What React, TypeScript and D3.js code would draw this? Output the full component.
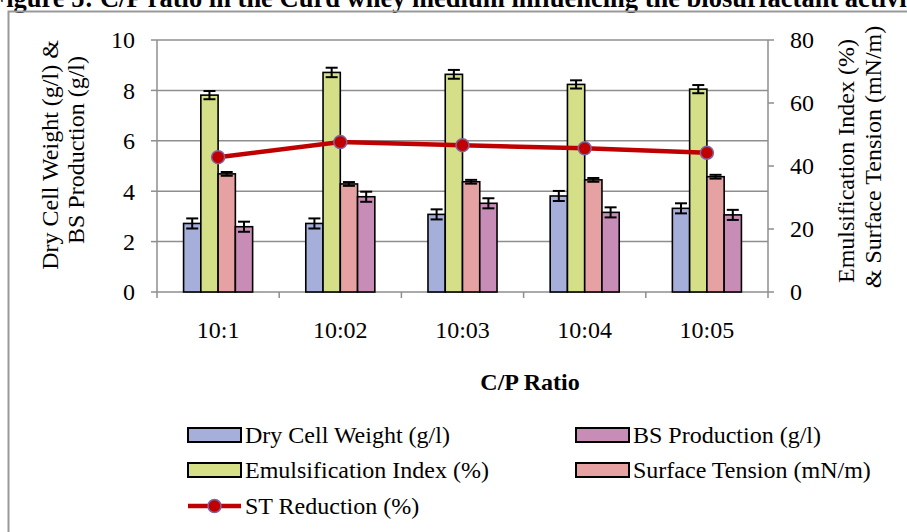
import React from 'react';
import * as d3 from 'd3';

const categories = ['10:1', '10:02', '10:03', '10:04', '10:05'];

// left axis (g/l)
const dryCellWeight = [2.72, 2.72, 3.08, 3.81, 3.32];
const dryCellWeightErr = [0.2, 0.2, 0.2, 0.2, 0.2];
const bsProduction = [2.59, 3.78, 3.52, 3.16, 3.06];
const bsProductionErr = [0.2, 0.2, 0.2, 0.2, 0.2];

// right axis (% and mN/m)
const emulsificationIndex = [62.5, 69.7, 69.1, 65.9, 64.4];
const emulsificationIndexErr = [1.3, 1.5, 1.4, 1.3, 1.3];
const surfaceTension = [37.5, 34.3, 35.0, 35.6, 36.6];
const surfaceTensionErr = [0.6, 0.6, 0.6, 0.6, 0.6];
const stReduction = [42.8, 47.6, 46.6, 45.6, 44.2];

const leftTicks = [0, 2, 4, 6, 8, 10];
const rightTicks = [0, 20, 40, 60, 80];

type Series = {
  key: string;
  label: string;
  color: string;
  axis: 'left' | 'right';
  values: number[];
  err: number[];
};

const barSeries: Series[] = [
  { key: 'dcw', label: 'Dry Cell Weight (g/l)', color: '#A5AFDA', axis: 'left', values: dryCellWeight, err: dryCellWeightErr },
  { key: 'ei', label: 'Emulsification Index (%)', color: '#D4DF88', axis: 'right', values: emulsificationIndex, err: emulsificationIndexErr },
  { key: 'st', label: 'Surface Tension (mN/m)', color: '#E6A1A2', axis: 'right', values: surfaceTension, err: surfaceTensionErr },
  { key: 'bs', label: 'BS Production (g/l)', color: '#C78DB7', axis: 'left', values: bsProduction, err: bsProductionErr },
];

const W = 907;
const H = 532;
const margin = { left: 157, right: 768, top: 40, bottom: 292 };
const FONT = '"Liberation Serif", "Times New Roman", serif';
const FS = 24;
const GRID = '#8E8E8E';
const RED = '#C00000';

export default function App() {
  const x = d3.scaleBand<string>()
    .domain(categories)
    .range([margin.left, margin.right])
    .paddingInner(0.435)
    .paddingOuter(0.2175);
  const inner = d3.scaleBand<string>()
    .domain(barSeries.map(s => s.key))
    .range([0, x.bandwidth()]);
  const yL = d3.scaleLinear().domain([0, 10]).range([margin.bottom, margin.top]);
  const yR = d3.scaleLinear().domain([0, 80]).range([margin.bottom, margin.top]);
  const step = x.step();
  const center = (c: string) => (x(c) ?? 0) + x.bandwidth() / 2;

  const line = d3.line<number>()
    .x((_, i) => center(categories[i]))
    .y(d => yR(d));

  const legendItems = [
    { s: barSeries[0], x: 188, y: 435 },
    { s: barSeries[3], x: 576, y: 435 },
    { s: barSeries[1], x: 188, y: 470 },
    { s: barSeries[2], x: 576, y: 470 },
  ];

  return (
    <div style={{ position: 'absolute', left: 0, top: 0 }}>
      <svg width={W} height={H} style={{ display: 'block', background: '#fff' }} fontFamily={FONT}>
        {/* cropped caption */}
        <text x={-10} y={7} fontSize={26.5} fontWeight="bold">
          Figure 5: C/P ratio in the Curd whey medium influencing the biosurfactant activity
        </text>
        {/* frame */}
        <path d={`M8.5,${H + 5}V11.5H${W + 5}`} fill="none" stroke="#999" strokeWidth={2} />

        {/* gridlines */}
        {leftTicks.filter(t => t > 0).map(t => (
          <line key={t} x1={margin.left} x2={margin.right} y1={yL(t)} y2={yL(t)} stroke={GRID} strokeWidth={1.5} />
        ))}

        {/* axes */}
        <line x1={margin.left} x2={margin.left} y1={margin.top} y2={margin.bottom} stroke={GRID} strokeWidth={1.5} />
        <line x1={margin.right} x2={margin.right} y1={margin.top} y2={margin.bottom} stroke={GRID} strokeWidth={1.5} />
        <line x1={margin.left} x2={margin.right} y1={margin.bottom} y2={margin.bottom} stroke={GRID} strokeWidth={1.5} />
        {leftTicks.map(t => (
          <g key={t}>
            <line x1={margin.left - 6} x2={margin.left} y1={yL(t)} y2={yL(t)} stroke={GRID} strokeWidth={1.5} />
            <text x={margin.left - 22} y={yL(t)} dy="0.35em" textAnchor="end" fontSize={FS}>{t}</text>
          </g>
        ))}
        {rightTicks.map(t => (
          <g key={t}>
            <line x1={margin.right} x2={margin.right + 6} y1={yR(t)} y2={yR(t)} stroke={GRID} strokeWidth={1.5} />
            <text x={margin.right + 22} y={yR(t)} dy="0.35em" textAnchor="start" fontSize={FS}>{t}</text>
          </g>
        ))}
        {categories.map((c, i) => (
          <line key={c} x1={margin.left + i * step} x2={margin.left + i * step} y1={margin.bottom} y2={margin.bottom + 6} stroke={GRID} strokeWidth={1.5} />
        ))}
        <line x1={margin.right} x2={margin.right} y1={margin.bottom} y2={margin.bottom + 6} stroke={GRID} strokeWidth={1.5} />
        {categories.map(c => (
          <text key={c} x={center(c)} y={338} textAnchor="middle" fontSize={FS}>{c}</text>
        ))}

        {/* bars */}
        {barSeries.map(s => {
          const y = s.axis === 'left' ? yL : yR;
          return (
            <g key={s.key}>
              {categories.map((c, i) => {
                const bx = (x(c) ?? 0) + (inner(s.key) ?? 0);
                const bw = inner.bandwidth();
                const cx = bx + bw / 2;
                const v = s.values[i];
                const e = s.err[i];
                return (
                  <g key={c}>
                    <rect x={bx} y={y(v)} width={bw} height={y(0) - y(v)} fill={s.color} stroke="#000" strokeWidth={1.6} />
                    <g stroke="#000" strokeWidth={2}>
                      <line x1={cx} x2={cx} y1={y(v - e)} y2={y(v + e)} />
                      <line x1={cx - 6} x2={cx + 6} y1={y(v - e)} y2={y(v - e)} />
                      <line x1={cx - 6} x2={cx + 6} y1={y(v + e)} y2={y(v + e)} />
                    </g>
                  </g>
                );
              })}
            </g>
          );
        })}

        {/* ST reduction line */}
        <path d={line(stReduction) ?? ''} fill="none" stroke={RED} strokeWidth={4.5} />
        {stReduction.map((v, i) => (
          <circle key={i} cx={center(categories[i])} cy={yR(v)} r={6.5} fill={RED} stroke="#8064A2" strokeWidth={1.5} />
        ))}

        {/* axis titles */}
        <text transform="translate(50,155) rotate(-90)" textAnchor="middle" dy="0.35em" fontSize={FS}>Dry Cell Weight (g/l) &amp;</text>
        <text transform="translate(76,150) rotate(-90)" textAnchor="middle" dy="0.35em" fontSize={FS}>BS Production (g/l)</text>
        <text transform="translate(846,161) rotate(-90)" textAnchor="middle" dy="0.35em" fontSize={FS}>Emulsification Index (%)</text>
        <text transform="translate(873,157) rotate(-90)" textAnchor="middle" dy="0.35em" fontSize={FS}>&amp; Surface Tension (mN/m)</text>
        <text x={530} y={390} textAnchor="middle" fontSize={FS} fontWeight="bold">C/P Ratio</text>

        {/* legend */}
        {legendItems.map(({ s, x: lx, y: ly }) => (
          <g key={s.key}>
            <rect x={lx} y={ly - 7} width={53} height={14} fill={s.color} stroke="#000" strokeWidth={2} />
            <text x={lx + 57} y={ly} dy="0.35em" fontSize={FS}>{s.label}</text>
          </g>
        ))}
        <line x1={188} x2={241} y1={506} y2={506} stroke={RED} strokeWidth={4.5} />
        <circle cx={214.5} cy={506} r={6.5} fill={RED} stroke="#8064A2" strokeWidth={1.5} />
        <text x={245} y={506} dy="0.35em" fontSize={FS}>ST Reduction (%)</text>
      </svg>
    </div>
  );
}
